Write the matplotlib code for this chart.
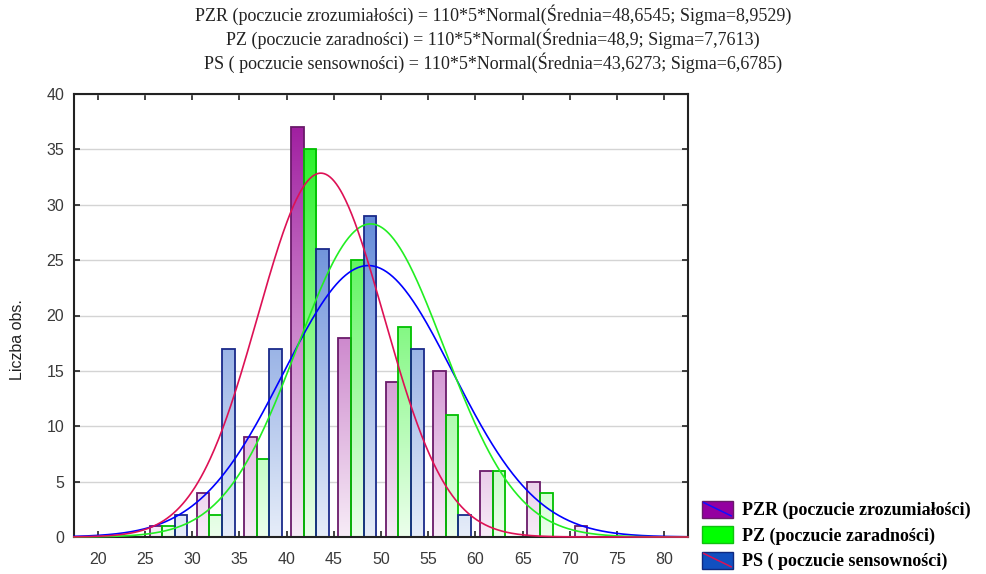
import numpy as np
import matplotlib
matplotlib.use("Agg")
import matplotlib.pyplot as plt
from matplotlib.colors import LinearSegmentedColormap
from matplotlib.patches import Rectangle
from matplotlib.lines import Line2D
from matplotlib.legend_handler import HandlerBase

# ---------------- data ----------------
bin_centers = [22.5, 27.5, 32.5, 37.5, 42.5, 47.5, 52.5, 57.5, 62.5, 67.5, 72.5, 77.5]
pzr_counts = [0, 1, 4, 9, 37, 18, 14, 15, 6, 5, 1, 0]
pz_counts = [0, 1, 2, 7, 35, 25, 19, 11, 6, 4, 0, 0]
ps_counts = [0, 2, 17, 17, 26, 29, 17, 2, 0, 0, 0, 0]

n_obs = 110
bin_width = 5
pzr_mean, pzr_sigma = 48.6545, 8.9529
pz_mean, pz_sigma = 48.9, 7.7613
ps_mean, ps_sigma = 43.6273, 6.6785

series_labels = ["PZR (poczucie zrozumiałości)", "PZ (poczucie zaradności)",
                 "PS ( poczucie sensowności)"]
title_lines = [
    "PZR (poczucie zrozumiałości) = 110*5*Normal(Średnia=48,6545; Sigma=8,9529)",
    "PZ (poczucie zaradności) = 110*5*Normal(Średnia=48,9; Sigma=7,7613)",
    "PS ( poczucie sensowności) = 110*5*Normal(Średnia=43,6273; Sigma=6,6785)",
]
x_ticks = [20, 25, 30, 35, 40, 45, 50, 55, 60, 65, 70, 75, 80]
y_ticks = [0, 5, 10, 15, 20, 25, 30, 35, 40]
y_label = "Liczba obs."

# ---------------- styling ----------------
W, H = 986, 574
fig = plt.figure(figsize=(W / 100, H / 100), dpi=100)
ax = fig.add_axes([74 / W, 1 - 537 / H, (688 - 74) / W, (537 - 94) / H])
XMIN, XMAX, YMIN, YMAX = 17.5, 82.5, 0, 40

series = [
    (pzr_counts, "#f7ecf7", "#9a0f9a", "#6a1a6a"),
    (pz_counts, "#ecffec", "#10f010", "#00c000"),
    (ps_counts, "#e6edf9", "#3366cc", "#1a2a8a"),
]
bw = 4.0 / 3.0
offsets = [-bw, 0.0, bw]

grad = np.linspace(0, 1, 256).reshape(-1, 1)
centers = np.array(bin_centers)
for (counts, c_lo, c_hi, edge), off in zip(series, offsets):
    cmap = LinearSegmentedColormap.from_list("g", [c_lo, c_hi])
    bars = ax.bar(centers + off, counts, width=bw, facecolor="none",
                  edgecolor=edge, linewidth=1.3, zorder=3)
    for b in bars:
        if b.get_height() <= 0:
            b.set_visible(False)
            continue
        im = ax.imshow(grad, extent=[XMIN, XMAX, 0, 40], origin="lower",
                       aspect="auto", cmap=cmap, zorder=2.9, interpolation="bilinear")
        im.set_clip_path(b)

# fitted normal curves
xs = np.linspace(XMIN, XMAX, 600)
def normal_curve(m, s):
    return n_obs * bin_width * np.exp(-0.5 * ((xs - m) / s) ** 2) / (s * np.sqrt(2 * np.pi))

ax.plot(xs, normal_curve(pzr_mean, pzr_sigma), color="#0000ff", lw=1.2, zorder=4, clip_on=False)
ax.plot(xs, normal_curve(pz_mean, pz_sigma), color="#22ee22", lw=1.2, zorder=4, clip_on=False)
ax.plot(xs, normal_curve(ps_mean, ps_sigma), color="#dd1155", lw=1.2, zorder=4.1, clip_on=False)

ax.set_xlim(XMIN, XMAX)
ax.set_ylim(YMIN, YMAX)
ax.set_xticks(x_ticks)
ax.set_yticks(y_ticks)
ax.yaxis.grid(True, color="#d4d4d4", lw=1.0, zorder=0)
ax.set_axisbelow(True)
ax.tick_params(direction="in", length=4, width=1.2, top=True, right=True,
               labelsize=11.5, labelcolor="#3a3a3a", colors="#222222")
ax.tick_params(axis="x", pad=11)
ax.tick_params(axis="y", pad=7)
for lab in ax.get_xticklabels() + ax.get_yticklabels():
    lab.set_fontfamily("Liberation Sans")
    lab.set_color("#3a3a3a")
for sp in ax.spines.values():
    sp.set_linewidth(1.5)
    sp.set_color("#222222")
    sp.set_zorder(3.5)

fig.text(18 / W, 1 - 340 / H, y_label, rotation=90, ha="center", va="center",
         fontsize=11.5, family="Liberation Sans", color="#222222")

for i, t in enumerate(title_lines):
    fig.text(0.5, 1 - (15 + 24 * i) / H, t, ha="center", va="center",
             fontsize=13, family="Liberation Serif", color="#222222")

# legend
class DiagHandler(HandlerBase):
    def __init__(self, face, edge, diag):
        super().__init__()
        self.face, self.edge, self.diag = face, edge, diag
    def create_artists(self, legend, orig_handle, xdescent, ydescent, width, height, fontsize, trans):
        x0, y0 = -xdescent, -ydescent
        r = Rectangle((x0, y0), width, height, facecolor=self.face, edgecolor=self.edge,
                      lw=1.0, transform=trans)
        arts = [r]
        if self.diag:
            arts.append(Line2D([x0 + 1, x0 + width - 1], [y0 + height - 1, y0 + 1],
                               color=self.diag, lw=1.1, solid_capstyle="butt",
                               transform=trans))
        return arts

leg_handles = [Rectangle((0, 0), 1, 1) for _ in range(3)]
hm = {leg_handles[0]: DiagHandler("#9400a0", "#6a1a6a", "#1010ff"),
      leg_handles[1]: DiagHandler("#00ff00", "#10c010", None),
      leg_handles[2]: DiagHandler("#1250c0", "#102a80", "#dd1155")}
fig.legend(leg_handles, series_labels, handler_map=hm, loc="lower left",
           bbox_to_anchor=(689 / W, -9 / H), frameon=False,
           prop={"family": "Liberation Serif", "weight": "bold", "size": 13},
           handlelength=1.75, handleheight=1.05, labelspacing=0.38, handletextpad=0.5,
           borderpad=0.2)

fig.savefig("out.png", dpi=100)
